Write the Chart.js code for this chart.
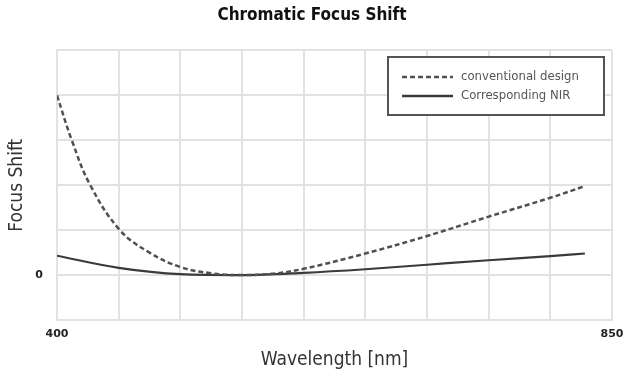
<!DOCTYPE html>
<html>
<head>
<meta charset="utf-8">
<script src="https://cdn.jsdelivr.net/npm/chart.js@4/dist/chart.umd.min.js"></script>
<style>
  html, body { margin: 0; padding: 0; background: #fff; }
  #wrap { width: 624px; height: 377px; }
</style>
</head>
<body>
<div id="wrap"><canvas id="focusChart"></canvas></div>
<script>
// wavelength (nm) -> focus shift
const convWl   = [400, 412, 427, 451, 475, 500, 525, 550, 575, 600, 650, 700, 750, 800, 828];
const convVal  = [4.0, 3.0, 2.0, 1.0, 0.5, 0.18, 0.04, 0.0, 0.03, 0.14, 0.48, 0.87, 1.3, 1.72, 1.98];
const nirWl    = [400, 450, 500, 550, 600, 650, 700, 750, 800, 828];
const nirVal   = [0.43, 0.16, 0.02, 0.0, 0.05, 0.13, 0.23, 0.33, 0.42, 0.48];
const seriesNames = ['conventional design', 'Corresponding NIR'];
const xTickLabels = [400, 850];
const yTickLabels = [0];

const narrow = "'Liberation Sans Narrow', 'DejaVu Sans Condensed', sans-serif";

const toPoints = (xs, ys) => xs.map((x, i) => ({ x: x, y: ys[i] }));

// legend box drawn inside the plot, top right
const boxLegend = {
  id: 'boxLegend',
  afterDraw(chart) {
    const ctx = chart.ctx;
    const x0 = 388, y0 = 57, w = 216, h = 58;
    ctx.save();
    ctx.fillStyle = '#fff';
    ctx.fillRect(x0, y0, w, h);
    ctx.strokeStyle = '#555';
    ctx.lineWidth = 2;
    ctx.strokeRect(x0, y0, w, h);
    chart.data.datasets.forEach((ds, i) => {
      const y = y0 + 20 + i * 19;
      ctx.beginPath();
      ctx.setLineDash(ds.borderDash || []);
      ctx.strokeStyle = ds.borderColor;
      ctx.lineWidth = 2.5;
      ctx.moveTo(402, y);
      ctx.lineTo(453, y);
      ctx.stroke();
      ctx.setLineDash([]);
      ctx.fillStyle = '#555';
      ctx.font = '13px ' + narrow;
      ctx.textBaseline = 'middle';
      ctx.fillText(ds.label, 461, y);
    });
    ctx.restore();
  }
};

new Chart(document.getElementById('focusChart'), {
  type: 'line',
  data: {
    datasets: [{
      label: seriesNames[0],
      data: toPoints(convWl, convVal),
      borderColor: '#505050',
      borderWidth: 2.5,
      borderDash: [5, 3],
      pointRadius: 0,
      tension: 0.4,
      fill: false
    }, {
      label: seriesNames[1],
      data: toPoints(nirWl, nirVal),
      borderColor: '#3a3a3a',
      borderWidth: 2.2,
      pointRadius: 0,
      cubicInterpolationMode: 'monotone',
      fill: false
    }]
  },
  options: {
    responsive: true,
    maintainAspectRatio: false,
    animation: false,
    plugins: {
      legend: { display: false },
      tooltip: { enabled: false },
      title: {
        display: true,
        text: 'Chromatic Focus Shift',
        color: '#111',
        font: { family: narrow, size: 17, weight: 'bold' },
        padding: { top: 5, bottom: 25 }
      }
    },
    scales: {
      x: {
        type: 'linear',
        min: 400,
        max: 850,
        grid: { color: '#e2e2e2', lineWidth: 2, drawTicks: false },
        border: { color: '#e2e2e2', width: 2 },
        ticks: {
          stepSize: 50,
          autoSkip: false,
          maxRotation: 0,
          padding: 8,
          color: '#222',
          font: { family: 'DejaVu Sans', size: 11, weight: 'bold' },
          callback: v => xTickLabels.includes(v) ? String(v) : ''
        },
        title: {
          display: true,
          text: 'Wavelength [nm]',
          color: '#333',
          font: { family: narrow, size: 19 },
          padding: { top: 0, bottom: 6 }
        },
        afterFit: s => {
          s.height = 57;
          s.paddingLeft = 0;
          s.paddingRight = 12;
        }
      },
      y: {
        min: -1,
        max: 5,
        grid: { color: '#e2e2e2', lineWidth: 2, drawTicks: false },
        border: { color: '#e2e2e2', width: 2 },
        ticks: {
          stepSize: 1,
          padding: 14,
          color: '#222',
          font: { family: 'DejaVu Sans', size: 11, weight: 'bold' },
          callback: v => yTickLabels.includes(v) ? String(v) : ''
        },
        title: {
          display: true,
          text: 'Focus Shift',
          color: '#333',
          font: { family: narrow, size: 19 },
          padding: { top: 6, bottom: 0 }
        },
        afterFit: s => { s.width = 57; }
      }
    }
  },
  plugins: [boxLegend]
});
</script>
</body>
</html>
